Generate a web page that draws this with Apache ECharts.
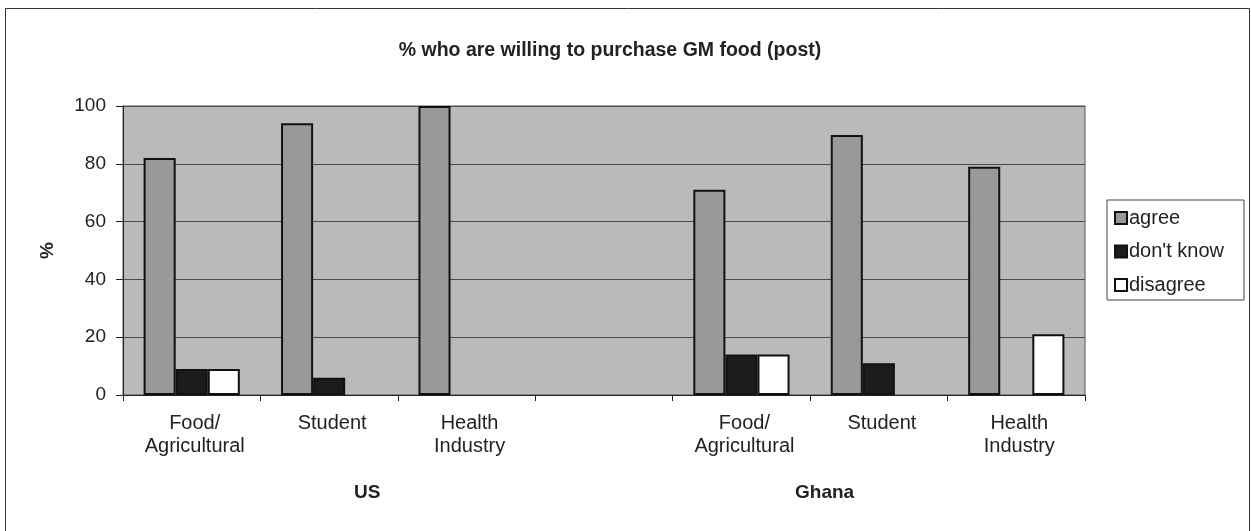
<!DOCTYPE html>
<html>
<head>
<meta charset="utf-8">
<script src="https://cdn.jsdelivr.net/npm/echarts@6/dist/echarts.min.js"></script>
<style>
  html, body { margin: 0; padding: 0; background: #fff; }
  #chart { width: 1251px; height: 531px; }
</style>
</head>
<body>
<div id="chart"></div>
<script>
// Occupational groups, repeated per country; the blank slot separates US and Ghana
const categories = ['Food/\nAgricultural', 'Student', 'Health\nIndustry', '', 'Food/\nAgricultural', 'Student', 'Health\nIndustry'];
const groups = ['US', 'Ghana'];

// Percent of respondents per answer
const agree    = [82, 94, 100, null, 71, 90, 79];
const dontKnow = [9, 6, null, null, 14, 11, null];
const disagree = [9, null, null, null, 14, null, 21];

const yTicks = { min: 0, max: 100, interval: 20 };

const FONT = '"Liberation Sans", Arial, Helvetica, sans-serif';
const chart = echarts.init(document.getElementById('chart'), null, { renderer: 'canvas' });

const barBorder = { borderColor: '#111', borderWidth: 2 };

chart.setOption({
  backgroundColor: '#ffffff',
  animation: false,
  title: {
    text: '% who are willing to purchase GM food (post)',
    left: 605,
    textAlign: 'center',
    top: 36,
    textStyle: { fontFamily: FONT, fontSize: 19.5, fontWeight: 'bold', color: '#222' }
  },
  grid: {
    left: 123, right: 166, top: 106, bottom: 136,
    show: true,
    backgroundColor: '#bababa',
    borderColor: '#555',
    borderWidth: 1
  },
  legend: {
    orient: 'vertical',
    left: 1107,
    top: 200,
    padding: [8, 20, 5, 7],
    itemGap: 13.5,
    itemWidth: 12,
    itemHeight: 12,
    backgroundColor: '#fff',
    borderColor: '#444',
    borderWidth: 1,
    borderRadius: 0,
    icon: 'rect',
    textStyle: { fontFamily: FONT, fontSize: 20, color: '#222', padding: [0, 0, 0, -3] },
    data: ['agree', "don't know", 'disagree']
  },
  xAxis: {
    type: 'category',
    data: categories,
    boundaryGap: true,
    axisLine: { lineStyle: { color: '#222', width: 1 } },
    axisTick: { show: true, interval: 0, length: 6, lineStyle: { color: '#222' } },
    axisLabel: {
      interval: 0,
      margin: 17,
      fontFamily: FONT,
      fontSize: 20,
      lineHeight: 23,
      color: '#222',
      padding: [0, 0, 0, 6]
    },
    splitLine: { show: false }
  },
  yAxis: {
    type: 'value',
    min: yTicks.min,
    max: yTicks.max,
    interval: yTicks.interval,
    name: '%',
    nameLocation: 'middle',
    nameGap: 66,
    nameRotate: 90,
    nameTextStyle: { fontFamily: FONT, fontSize: 19, fontWeight: 'bold', color: '#222' },
    axisLine: { show: true, lineStyle: { color: '#222', width: 1 } },
    axisTick: { show: true, length: 7, lineStyle: { color: '#222' } },
    axisLabel: { margin: 17, fontFamily: FONT, fontSize: 19, color: '#222' },
    splitLine: { show: true, lineStyle: { color: '#4a4a4a', width: 1 } }
  },
  series: [
    {
      name: 'agree', type: 'bar', data: agree,
      barGap: '0%', barCategoryGap: '30%',
      itemStyle: Object.assign({ color: '#999999' }, barBorder)
    },
    {
      name: "don't know", type: 'bar', data: dontKnow,
      barGap: '0%', barCategoryGap: '30%',
      itemStyle: Object.assign({ color: '#1c1c1c' }, barBorder)
    },
    {
      name: 'disagree', type: 'bar', data: disagree,
      barGap: '0%', barCategoryGap: '30%',
      itemStyle: Object.assign({ color: '#ffffff' }, barBorder)
    }
  ],
  graphic: [
    // outer chart frame
    {
      type: 'rect', silent: true, z: -1,
      shape: { x: 5.5, y: 8.5, width: 1244, height: 540 },
      style: { fill: 'none', stroke: '#333', lineWidth: 1 }
    },
    {
      type: 'text', left: 369 - 15, top: 483,
      style: { text: groups[0], font: 'bold 19px ' + FONT, fill: '#222' }
    },
    {
      type: 'text', left: 826 - 31, top: 483,
      style: { text: groups[1], font: 'bold 19px ' + FONT, fill: '#222' }
    }
  ]
});
</script>
</body>
</html>
